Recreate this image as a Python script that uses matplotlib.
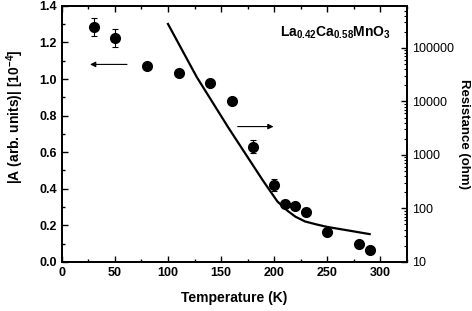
import numpy as np
import matplotlib
matplotlib.use('Agg')
import matplotlib.pyplot as plt
from matplotlib.ticker import MultipleLocator, LogLocator, NullFormatter, FixedLocator

plt.rcParams['font.family'] = ['Liberation Sans', 'DejaVu Sans']
plt.rcParams['mathtext.fontset'] = 'custom'
plt.rcParams['mathtext.rm'] = 'Liberation Sans:bold'
plt.rcParams['mathtext.bf'] = 'Liberation Sans:bold'
plt.rcParams['mathtext.it'] = 'Liberation Sans:bold'

# |A| data (left axis)
temp = [30, 50, 80, 110, 140, 160, 180, 200, 210, 220, 230, 250, 280, 290]
amp = [1.285, 1.225, 1.07, 1.035, 0.98, 0.88, 0.63, 0.42, 0.315, 0.305, 0.275, 0.165, 0.10, 0.065]
amp_err = [0.05, 0.05, 0, 0, 0, 0, 0.035, 0.035, 0, 0.015, 0, 0, 0, 0]

# resistance curve (right axis)
res_temp = [100, 127, 157, 189, 203, 212, 220, 229, 240, 250, 272, 290]
res_val = [2.8e5, 2.87e4, 3.2e3, 341, 135, 92, 70, 57, 50, 45, 38, 33]

fig = plt.figure(figsize=(4.72, 3.11), dpi=100)
ax = fig.add_axes([0.131, 0.158, 0.731, 0.823])

ax.errorbar(temp, amp, yerr=amp_err, fmt='o', color='black', markersize=7,
            ecolor='black', elinewidth=0.8, capsize=2.5, capthick=0.8)

ax.set_xlim(0, 325)
ax.set_ylim(0, 1.4)
ax.xaxis.set_major_locator(MultipleLocator(50))
ax.xaxis.set_minor_locator(MultipleLocator(25))
ax.yaxis.set_major_locator(MultipleLocator(0.2))
ax.yaxis.set_minor_locator(MultipleLocator(0.1))
ax.xaxis.set_major_formatter(matplotlib.ticker.FuncFormatter(lambda v, p: '%d' % v))
ax.yaxis.set_major_formatter(matplotlib.ticker.FormatStrFormatter('%.1f'))
ax.tick_params(which='both', direction='in', top=True, labelsize=9)
ax.tick_params(which='major', length=4, width=1)
ax.tick_params(which='minor', length=2.5, width=1)
for lab in ax.get_xticklabels() + ax.get_yticklabels():
    lab.set_fontweight('bold')
for s in ax.spines.values():
    s.set_linewidth(1.3)

ax.set_xlabel('Temperature (K)', fontsize=10, fontweight='bold', labelpad=9)
ax.set_ylabel(r'|A (arb. units)| [10$^{-4}$]', fontsize=10, fontweight='bold')
ax.yaxis.set_label_coords(-0.105, 0.566)

# arrows
ax.annotate('', xy=(24, 1.08), xytext=(64, 1.08),
            arrowprops=dict(arrowstyle='-|>', color='black', lw=0.8, mutation_scale=8))
ax.annotate('', xy=(202, 0.74), xytext=(163, 0.74),
            arrowprops=dict(arrowstyle='-|>', color='black', lw=0.8, mutation_scale=8))

ax.text(0.953, 0.895, r'La$_{0.42}$Ca$_{0.58}$MnO$_3$', transform=ax.transAxes,
        ha='right', va='center', fontsize=10, fontweight='bold')

ax2 = ax.twinx()
ax2.plot(res_temp, res_val, color='black', lw=1.6)
ax2.set_yscale('log')
ax2.set_ylim(10, 6.1e5)
ax2.yaxis.set_major_locator(FixedLocator([10, 100, 1000, 10000, 100000]))
ax2.yaxis.set_major_formatter(matplotlib.ticker.FuncFormatter(lambda v, p: '%d' % round(v)))
ax2.yaxis.set_minor_locator(LogLocator(base=10, subs=np.arange(2, 10)))
ax2.yaxis.set_minor_formatter(NullFormatter())
ax2.tick_params(which='both', direction='in', labelsize=9)
ax2.tick_params(which='major', length=4, width=1)
ax2.tick_params(which='minor', length=2.5, width=0.8)
ax2.set_ylabel('Resistance (ohm)', fontsize=9.5, fontweight='bold', rotation=270, labelpad=12)
for s in ax2.spines.values():
    s.set_linewidth(1.3)

fig.savefig('out.png', dpi=100)
